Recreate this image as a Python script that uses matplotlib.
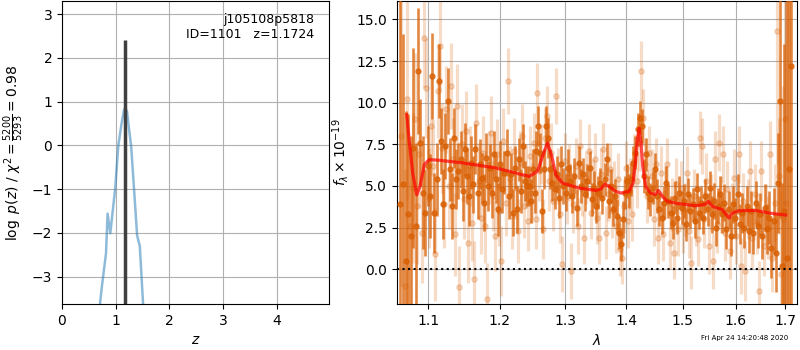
#redshift fit summary plot: log p(z) on the left, 1D spectrum + model on the right
import numpy as np
import matplotlib
matplotlib.use('Agg')
from matplotlib import pyplot as plt
from matplotlib.ticker import NullLocator, FixedLocator, FixedFormatter

#left panel, p(z) curve
zgrid = [0.70, 0.71, 0.743, 0.82, 0.85, 0.90, 0.99, 1.05, 1.11, 1.16, 1.21, 1.25, 1.29, 1.40, 1.45, 1.51, 1.53]
log_pz = [-4.2, -3.6, -3.23, -2.47, -1.56, -2.01, -1.0, 0.0, 0.5, 0.83, 0.79, 0.37, -0.03, -2.06, -2.3, -3.6, -4.2]
zbest = 1.1724
zbest_top = 2.4

#right panel, model spectrum
model_lam = [1.0714, 1.0749, 1.0792, 1.0845, 1.0889, 1.0946, 1.1013, 1.1148, 1.1469, 1.1944,
             1.2238, 1.2439, 1.2566, 1.2643, 1.2719, 1.2787, 1.2850, 1.2954, 1.3219, 1.3490,
             1.3572, 1.3644, 1.3711, 1.3823, 1.3908, 1.4049, 1.4118, 1.4163, 1.4195, 1.4225,
             1.4255, 1.4285, 1.4336, 1.4424, 1.4501, 1.4560, 1.4632, 1.4721, 1.4932, 1.5239,
             1.5413, 1.5476, 1.5551, 1.5742, 1.5870, 1.5935, 1.6065, 1.6395, 1.6664, 1.7006]
model_flux = [9.28, 7.58, 5.77, 4.47, 4.97, 6.28, 6.58, 6.54, 6.38, 6.08,
              5.77, 5.57, 5.88, 6.78, 7.58, 6.78, 5.67, 5.17, 4.87, 4.73,
              4.81, 5.11, 4.97, 4.67, 4.57, 4.67, 5.17, 6.58, 7.90, 8.45,
              7.60, 6.20, 4.97, 4.57, 4.47, 4.73, 4.37, 4.07, 3.93, 3.81,
              3.89, 4.07, 3.77, 3.57, 3.07, 3.37, 3.51, 3.53, 3.37, 3.25]

#first spectrum (dark points)
lam_a = [1.0625, 1.0665, 1.0700, 1.0735, 1.0770, 1.0800, 1.0835, 1.0865, 1.0895, 1.0925,
         1.0960, 1.0990, 1.1020, 1.1050, 1.1080, 1.1110, 1.1140, 1.1170, 1.1200, 1.1230,
         1.1260, 1.1290, 1.1320, 1.1350, 1.1380, 1.1410, 1.1440, 1.1470, 1.1500, 1.1530,
         1.1560, 1.1590, 1.1620, 1.1650, 1.1680, 1.1710, 1.1740, 1.1770, 1.1800, 1.1830,
         1.1860, 1.1890, 1.1920, 1.1950, 1.1980, 1.2010, 1.2040, 1.2070, 1.2100, 1.2130,
         1.2160, 1.2190, 1.2220, 1.2250, 1.2280, 1.2310, 1.2340, 1.2370, 1.2400, 1.2430,
         1.2460, 1.2490, 1.2520, 1.2550, 1.2580, 1.2610, 1.2640, 1.2670, 1.2700, 1.2730,
         1.2760, 1.2795, 1.2830, 1.2865, 1.2900, 1.2935, 1.2970, 1.3005, 1.3040, 1.3075,
         1.3110, 1.3145, 1.3180, 1.3215, 1.3250, 1.3285, 1.3320, 1.3355, 1.3390, 1.3425,
         1.3460, 1.3495, 1.3530, 1.3565, 1.3600, 1.3635, 1.3670, 1.3705, 1.3740, 1.3775,
         1.3810, 1.3845, 1.3880, 1.3915, 1.3950, 1.3985, 1.4020, 1.4055, 1.4090, 1.4125,
         1.4160, 1.4195, 1.4230, 1.4265, 1.4300, 1.4340, 1.4380, 1.4420, 1.4460, 1.4500,
         1.4540, 1.4580, 1.4620, 1.4660, 1.4700, 1.4740, 1.4780, 1.4820, 1.4860, 1.4900,
         1.4940, 1.4980, 1.5020, 1.5060, 1.5100, 1.5140, 1.5180, 1.5220, 1.5260, 1.5300,
         1.5340, 1.5380, 1.5420, 1.5460, 1.5500, 1.5540, 1.5580, 1.5620, 1.5660, 1.5700,
         1.5740, 1.5780, 1.5820, 1.5860, 1.5900, 1.5945, 1.5990, 1.6035, 1.6080, 1.6125,
         1.6170, 1.6215, 1.6260, 1.6305, 1.6350, 1.6395, 1.6440, 1.6485, 1.6530, 1.6575,
         1.6620, 1.6665, 1.6710, 1.6755, 1.6800, 1.6845, 1.6890, 1.6935, 1.6980, 1.7030,
         1.7080, 1.7125]
flux_a = [3.9, 5.1, 0.5, 3.3, 2.0, 7.3, 2.6, 11.9, 7.6, 4.6,
          3.4, 6.2, 4.4, 11.6, 3.4, 5.4, 11.3, 7.7, 3.9, 7.4,
          10.1, 6.0, 3.8, 7.9, 5.4, 5.9, 6.6, 4.7, 7.2, 5.6,
          4.4, 6.4, 5.1, 7.2, 4.6, 6.3, 5.5, 4.0, 6.7, 5.0,
          6.1, 4.6, 6.9, 5.4, 3.6, 6.3, 4.8, 5.8, 7.0, 4.4,
          5.7, 3.4, 6.1, 3.6, 6.6, 4.7, 7.4, 5.3, 5.0, 5.0,
          4.1, 6.0, 4.6, 7.1, 8.6, 7.0, 3.5, 6.0, 8.6, 7.9,
          6.0, 5.2, 4.8, 5.7, 4.3, 6.3, 5.0, 4.6, 6.1, 5.3,
          4.4, 5.6, 3.7, 6.4, 5.0, 5.7, 4.5, 5.3, 6.1, 4.2,
          4.9, 3.8, 4.6, 5.2, 4.3, 5.4, 6.6, 4.1, 5.0, 3.6,
          4.4, 3.2, 2.2, 1.5, 3.0, 4.6, 5.3, 4.7, 5.4, 6.4,
          7.0, 8.4, 9.1, 8.6, 5.6, 6.9, 4.6, 4.2, 4.9, 6.0,
          4.4, 3.6, 3.1, 4.0, 5.2, 4.1, 3.4, 2.8, 4.3, 3.1,
          4.6, 3.7, 4.1, 2.7, 4.5, 3.5, 3.9, 2.9, 4.8, 3.4,
          4.0, 3.1, 4.4, 3.6, 4.9, 3.3, 4.1, 2.5, 3.8, 4.5,
          3.3, 4.0, 2.4, 3.6, 2.0, 3.9, 3.1, 4.5, 2.7, 3.4,
          2.5, 3.8, 2.3, 3.5, 2.2, 4.0, 2.6, 3.3, 2.0, 3.7,
          2.4, 3.1, 1.3, 2.9, 1.0, 5.2, 10.1, 0.2, 3.5, 0.7,
          6.0, 12.2]
err_a = [20, 9, 9, 6, 6, 6, 5, 3.8, 2.6, 3.4,
         2.6, 2.4, 2.5, 2.6, 2.4, 2.2, 2.2, 2.0, 2.1, 2.0,
         2.0, 1.9, 2.0, 1.8, 1.8, 1.7, 1.7, 1.8, 1.6, 1.7,
         1.8, 1.6, 1.7, 1.5, 1.6, 1.5, 1.5, 1.7, 1.5, 1.5,
         1.4, 1.5, 1.4, 1.4, 1.6, 1.4, 1.4, 1.3, 1.4, 1.4,
         1.3, 1.4, 1.3, 1.4, 1.3, 1.3, 1.3, 1.2, 1.2, 1.2,
         1.3, 1.2, 1.2, 1.2, 1.2, 1.2, 1.3, 1.2, 1.2, 1.2,
         1.2, 1.1, 1.2, 1.1, 1.2, 1.1, 1.1, 1.1, 1.1, 1.0,
         1.0, 1.1, 1.1, 1.0, 1.0, 1.0, 1.0, 1.0, 1.0, 1.0,
         1.0, 1.0, 1.0, 0.9, 1.0, 1.0, 1.0, 1.0, 1.0, 1.0,
         1.0, 1.0, 1.0, 1.0, 1.1, 1.0, 1.0, 1.0, 1.0, 1.0,
         1.0, 1.0, 1.0, 1.0, 1.0, 1.0, 1.0, 1.0, 1.0, 1.0,
         1.0, 1.0, 1.0, 1.0, 1.0, 1.0, 1.0, 1.0, 1.0, 1.0,
         1.0, 1.0, 1.0, 1.0, 1.0, 1.0, 1.0, 1.0, 1.0, 1.0,
         1.0, 1.0, 1.0, 1.0, 1.0, 1.1, 1.1, 1.1, 1.1, 1.1,
         1.1, 1.1, 1.2, 1.1, 1.2, 1.1, 1.2, 1.2, 1.2, 1.2,
         1.2, 1.2, 1.3, 1.2, 1.3, 1.3, 1.3, 1.3, 1.4, 1.4,
         1.5, 1.6, 1.8, 2.0, 2.4, 3.0, 7.0, 5.0, 10, 16,
         22, 18]

#second spectrum (faint points)
lam_b = [1.0645, 1.0685, 1.0720, 1.0755, 1.0790, 1.0820, 1.0850, 1.0880, 1.0910, 1.0945,
         1.0975, 1.1005, 1.1035, 1.1065, 1.1095, 1.1125, 1.1155, 1.1185, 1.1215, 1.1245,
         1.1275, 1.1305, 1.1335, 1.1365, 1.1395, 1.1425, 1.1455, 1.1485, 1.1515, 1.1545,
         1.1575, 1.1605, 1.1635, 1.1665, 1.1695, 1.1725, 1.1755, 1.1785, 1.1815, 1.1845,
         1.1875, 1.1905, 1.1935, 1.1965, 1.1995, 1.2025, 1.2055, 1.2085, 1.2115, 1.2145,
         1.2175, 1.2205, 1.2235, 1.2265, 1.2295, 1.2325, 1.2355, 1.2385, 1.2415, 1.2445,
         1.2475, 1.2505, 1.2535, 1.2565, 1.2595, 1.2625, 1.2655, 1.2685, 1.2715, 1.2745,
         1.2778, 1.2812, 1.2848, 1.2882, 1.2918, 1.2952, 1.2988, 1.3022, 1.3058, 1.3092,
         1.3128, 1.3162, 1.3198, 1.3232, 1.3268, 1.3302, 1.3338, 1.3372, 1.3408, 1.3442,
         1.3478, 1.3512, 1.3548, 1.3582, 1.3618, 1.3652, 1.3688, 1.3722, 1.3758, 1.3792,
         1.3828, 1.3862, 1.3898, 1.3932, 1.3968, 1.4002, 1.4038, 1.4072, 1.4108, 1.4142,
         1.4178, 1.4212, 1.4248, 1.4282, 1.4320, 1.4360, 1.4400, 1.4440, 1.4480, 1.4520,
         1.4560, 1.4600, 1.4640, 1.4680, 1.4720, 1.4760, 1.4800, 1.4840, 1.4880, 1.4920,
         1.4960, 1.5000, 1.5040, 1.5080, 1.5120, 1.5160, 1.5200, 1.5240, 1.5280, 1.5320,
         1.5360, 1.5400, 1.5440, 1.5480, 1.5520, 1.5560, 1.5600, 1.5640, 1.5680, 1.5720,
         1.5760, 1.5800, 1.5840, 1.5880, 1.5922, 1.5968, 1.6012, 1.6058, 1.6102, 1.6148,
         1.6192, 1.6238, 1.6282, 1.6328, 1.6372, 1.6418, 1.6462, 1.6508, 1.6552, 1.6598,
         1.6642, 1.6688, 1.6732, 1.6778, 1.6822, 1.6868, 1.6912, 1.6958, 1.7000, 1.7020]
flux_b = [8.0, -1.0, 10.2, 2.6, 4.9, 9.0, 3.8, 6.9, 2.2, 13.9,
          10.9, 4.3, 8.6, 6.2, 0.9, 10.7, 13.4, 7.3, 3.9, 9.6,
          5.0, 11.0, 6.6, 2.1, 9.8, -1.1, 7.5, 4.2, 8.3, 1.6,
          6.2, 2.8, -0.6, 8.8, 5.3, 3.1, 7.0, 2.6, -1.8, 6.1,
          8.2, 4.4, 2.0, 6.9, 3.5, 0.5, 7.7, 4.0, 11.3, 5.4,
          3.2, 7.1, 4.9, 2.3, 6.4, 8.0, 3.8, 5.6, 2.9, 6.8,
          4.6, 7.6, 3.0, 10.6, 5.9, 6.9, 2.4, 7.9, 9.2, 5.3,
          7.0, 4.1, 10.4, 5.6, 3.3, 0.3, 6.5, 4.4, 5.8, -0.1,
          3.9, 6.2, 2.6, 7.4, 4.8, 1.9, 5.5, 7.1, 3.4, 5.0,
          6.6, 3.1, 1.9, 5.7, 7.2, 2.2, 4.5, 6.0, 3.5, 4.9,
          2.6, 5.4, 1.2, 0.7, 3.8, 6.1, 2.9, 5.1, 3.3, 6.5,
          5.3, 7.6, 11.9, 9.1, 6.3, 4.4, 7.0, 5.6, 3.0, 6.3,
          1.9, 5.8, 2.1, 4.6, 6.3, 1.6, 3.9, 1.0, 5.1, 2.4,
          4.9, 2.6, 3.6, 5.8, 2.3, 0.4, 4.4, 3.0, 1.8, 7.9,
          7.4, 3.0, 5.3, 1.4, 4.0, 0.5, 6.6, 2.7, 7.6, 3.9,
          6.9, 2.2, 4.8, 1.1, 3.5, 5.5, 2.0, 6.9, 0.2, 4.1,
          -0.1, 3.6, 5.9, 1.9, 4.5, 2.7, -1.3, 5.9, 1.4, 3.3,
          2.5, 6.9, 0.7, 4.0, 14.3, 5.6, -0.3, 3.0, 9.0, 4.0]
err_b = [9, 7, 6, 5, 4.5, 4, 3.5, 3.2, 3.0, 3.0,
         3.0, 3.0, 3.0, 2.8, 2.8, 2.8, 2.7, 2.7, 2.6, 2.6,
         2.6, 2.6, 2.5, 2.5, 2.5, 2.5, 2.4, 2.4, 2.4, 2.4,
         2.4, 2.3, 2.3, 2.3, 2.3, 2.2, 2.2, 2.2, 2.2, 2.2,
         2.2, 2.1, 2.1, 2.1, 2.1, 2.1, 2.0, 2.0, 2.0, 2.0,
         2.0, 2.0, 1.9, 1.9, 1.9, 1.9, 1.9, 1.9, 1.8, 1.8,
         1.8, 1.8, 1.8, 1.8, 1.8, 1.8, 1.8, 1.8, 1.8, 1.8,
         1.8, 1.8, 1.7, 1.7, 1.7, 1.7, 1.7, 1.7, 1.7, 1.7,
         1.7, 1.7, 1.7, 1.6, 1.6, 1.6, 1.6, 1.6, 1.6, 1.6,
         1.6, 1.6, 1.6, 1.6, 1.6, 1.6, 1.6, 1.6, 1.6, 1.6,
         1.6, 1.6, 1.6, 1.6, 1.6, 1.6, 1.6, 1.6, 1.6, 1.6,
         1.6, 1.7, 1.8, 1.7, 1.6, 1.6, 1.6, 1.6, 1.6, 1.6,
         1.6, 1.6, 1.6, 1.6, 1.6, 1.6, 1.6, 1.6, 1.6, 1.6,
         1.6, 1.6, 1.6, 1.6, 1.6, 1.6, 1.6, 1.6, 1.6, 1.6,
         1.7, 1.7, 1.7, 1.7, 1.7, 1.7, 1.7, 1.7, 1.7, 1.7,
         1.7, 1.7, 1.7, 1.7, 1.7, 1.7, 1.7, 1.7, 1.7, 1.7,
         1.8, 1.8, 1.8, 1.8, 1.8, 1.8, 1.8, 1.8, 1.8, 1.8,
         1.9, 2.0, 2.1, 2.3, 8.0, 3.5, 5.0, 8.0, 14, 18]

wave_ticks = [1.1, 1.2, 1.3, 1.4, 1.5, 1.6, 1.7]
orange = '#d95f02'

fig = plt.figure(figsize=(8, 3.5), dpi=100)

#p(z) panel
ax = fig.add_axes([0.0775, 0.131, 0.334, 0.866])
ax.plot(zgrid, log_pz, color='C0', alpha=0.5, lw=1.8)
ax.vlines(zbest, -3.63, zbest_top, color='0.25', lw=2.5)
ax.set_xlim(0, 4.98)
ax.set_ylim(-3.63, 3.3)
ax.set_xticks([0, 1, 2, 3, 4])
ax.set_yticks([-3, -2, -1, 0, 1, 2, 3])
ax.grid(True)
ax.set_axisbelow(True)
ax.set_xlabel(r'$z$')
ax.set_ylabel(r'$\log\ p(z)$' + ' / ' + r'$\chi^2=\frac{5200}{5293}=0.98$')
ax.text(0.945, 0.96, 'j105108p5818\nID=1101   z=1.1724', transform=ax.transAxes,
        ha='right', va='top', fontsize=9)

#spectrum panel
ax2 = fig.add_axes([0.496, 0.131, 0.5, 0.866])
ax2.errorbar(lam_b, flux_b, yerr=err_b, fmt='o', color=orange, alpha=0.22,
             ms=3.8, elinewidth=2.3, capsize=0, zorder=2)
ax2.errorbar(lam_a, flux_a, yerr=err_a, fmt='o', color=orange, alpha=0.75,
             ms=3.6, elinewidth=1.9, capsize=0, zorder=3)
ax2.plot(model_lam, model_flux, color='r', alpha=0.7, lw=2.3, zorder=4)
ax2.axhline(0, color='k', ls=':', lw=1.5, zorder=5)
ax2.set_xscale('log')
ax2.set_xlim(1.0585, 1.7237)
ax2.set_ylim(-2.1, 16.1)
ax2.xaxis.set_major_locator(FixedLocator(wave_ticks))
ax2.xaxis.set_major_formatter(FixedFormatter([str(t) for t in wave_ticks]))
ax2.xaxis.set_minor_locator(NullLocator())
ax2.grid(True)
ax2.set_axisbelow(True)
ax2.set_xlabel(r'$\lambda$')
ax2.set_ylabel(r'$f_\lambda \times 10^{-19}$')

fig.text(0.985, 0.025, 'Fri Apr 24 14:20:48 2020', ha='right', va='bottom', fontsize=5)

fig.savefig('out.png', dpi=100)
